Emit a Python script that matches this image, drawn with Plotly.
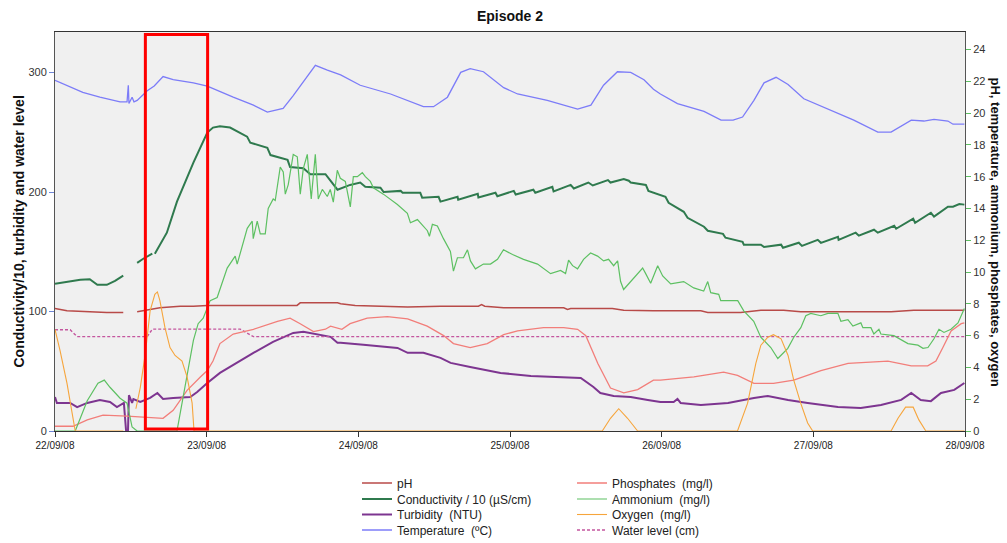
import pandas as pd
import plotly.graph_objects as go

START = pd.Timestamp("2008-09-22 00:00")

# ---- time axis -------------------------------------------------------------
day_labels = ["22/09/08", "23/09/08", "24/09/08", "25/09/08",
              "26/09/08", "27/09/08", "28/09/08"]

# ---- left-axis series (hours since 22/09/08 00:00, value) -------------------
cond_h = [0, 4.0, 5.5, 6.7, 8.2, 9.5, 10.8, 11.9, 13.0, 13.9, 15.4, 15.6, 15.8,
          17.7, 19.3, 21.9, 24.1, 25.0, 26.1, 27.7, 30.4, 30.9, 33.6, 34.1, 36.8,
          37.2, 39.3, 40.4, 42.8, 44.7, 46.7, 48.3, 49.1, 51.5, 52.0, 54.7, 55.0,
          57.8, 58.1, 60.7, 61.0, 63.7, 63.8, 66.9, 67.0, 69.7, 70.0, 72.6, 72.9,
          75.7, 76.0, 78.7, 78.9, 81.6, 82.1, 84.4, 85.1, 87.5, 87.9, 90.0, 90.8,
          91.1, 93.5, 93.9, 96.6, 97.1, 99.5, 100.1, 102.7, 103.3, 105.7, 106.1,
          108.8, 109.0, 111.7, 112.2, 114.9, 115.2, 117.7, 118.2, 120.7, 121.2,
          123.9, 124.0, 126.7, 127.2, 129.6, 130.2, 132.8, 133.1, 135.8, 136.1,
          138.6, 139.1, 141.3, 142.1, 143.1, 143.9]
cond_v = [123.2, 126.6, 127.0, 122.4, 122.4, 125.7, 130.0, None, 140.8, 144.0,
          148.4, None, 148.4, 166.0, 192.0, 224.6, 249.8, 254.0, 255.0, 254.0,
          246.4, 241.4, 237.0, 231.0, 227.0, 221.0, 220.0, 215.0, 215.0, 202.0,
          206.0, 208.0, 204.5, 203.7, 200.0, 201.0, 199.5, 199.5, 195.3, 196.0,
          192.0, 196.0, 193.6, 198.6, 195.5, 199.5, 196.5, 201.0, 198.0, 202.0,
          199.5, 204.5, 200.5, 206.0, 203.0, 208.0, 205.5, 210.0, 208.0, 211.0,
          209.5, 208.0, 206.0, 201.0, 196.0, 191.0, 183.5, 178.5, 171.0, 167.6,
          165.0, 161.8, 158.4, 156.0, 156.0, 154.0, 156.0, 153.4, 157.6, 155.0,
          160.0, 157.5, 162.6, 160.0, 166.0, 163.5, 168.5, 166.0, 171.8, 169.3,
          177.7, 174.3, 182.7, 179.5, 187.8, 187.8, 190.0, 189.5]

turb_h = [0, 0.3, 2.4, 3.5, 5.1, 7.1, 8.7, 9.8, 10.9, 11.25, 11.55, 11.7, 12.2,
          12.4, 13.5, 15.05, 16.2, 17.1, 18.7, 21.4, 22.5, 24.1, 26.1, 28.2, 31.4,
          34.5, 37.7, 39.3, 42.0, 43.6, 44.7, 45.2, 48.8, 53.1, 54.2, 55.8, 58.3,
          61.0, 62.6, 65.7, 70.5, 75.3, 80.5, 83.2, 85.2, 86.3, 88.4, 91.1, 93.8,
          95.8, 97.9, 98.5, 99.0, 102.2, 106.5, 110.6, 112.8, 116.0, 119.1, 123.9,
          127.5, 130.7, 133.9, 135.5, 137.0, 138.6, 140.2, 142.3, 143.9]
turb_v = [28.5, 23.5, 23.5, 20.0, 23.5, 26.0, 24.3, 20.0, 23.5, 0.0, 0.0, 30.0,
          23.5, 26.8, 24.3, 27.7, 31.8, 26.8, 27.7, 28.5, 32.7, 40.2, 48.6, 55.3,
          65.4, 74.6, 82.1, 83.0, 80.5, 78.8, 73.8, 73.8, 72.1, 70.4, 69.5, 65.4,
          65.4, 61.2, 57.0, 53.6, 48.6, 46.1, 45.3, 44.4, 36.9, 31.8, 29.3, 28.5,
          26.0, 24.3, 24.3, 26.8, 23.5, 21.8, 23.5, 27.7, 29.3, 26.0, 23.5, 20.0,
          19.3, 21.8, 26.0, 31.8, 26.0, 25.0, 31.8, 34.4, 40.2]

level_h = [0, 2.4, 3.5, 14.6, 15.4, 29.3, 31.4, 143.9]
level_v = [84.7, 84.7, 79.0, 79.0, 85.3, 85.3, 79.0, 79.0]

# ---- right-axis series -------------------------------------------------------
ph_h = [0, 1.9, 8.2, 10.8, 11.9, 13.0, 14.6, 16.6, 19.8, 21.9, 24.1, 38.3, 38.8,
        44.7, 45.2, 47.2, 47.5, 55.8, 61.0, 67.0, 67.5, 68.0, 71.0, 80.5, 81.1,
        81.6, 88.2, 90.0, 94.7, 102.2, 103.3, 108.5, 111.7, 115.3, 118.0, 132.3,
        135.9, 143.9]
ph_v = [7.7, 7.56, 7.45, 7.45, None, 7.5, 7.6, 7.75, 7.85, 7.85, 7.9, 7.9, 8.06,
        8.06, 8.0, 7.95, 7.9, 7.8, 7.85, 7.85, 7.95, 7.85, 7.75, 7.75, 7.65, 7.7,
        7.7, 7.6, 7.56, 7.56, 7.45, 7.45, 7.6, 7.6, 7.5, 7.5, 7.6, 7.6]

temp_h = [0, 4.4, 7.1, 10.3, 11.4, 11.6, 11.7, 12.2, 12.5, 13.0, 14.6, 15.7, 17.1,
          18.7, 21.9, 24.1, 28.2, 31.4, 33.6, 36.1, 37.7, 39.3, 41.2, 43.1, 45.2,
          48.3, 53.1, 58.3, 59.9, 62.1, 64.2, 65.7, 67.8, 71.0, 73.2, 77.9, 82.7,
          84.8, 86.8, 89.0, 91.1, 93.2, 94.7, 95.8, 98.5, 102.7, 105.4, 107.3,
          108.8, 110.6, 112.2, 114.1, 116.0, 118.5, 122.3, 126.4, 130.2, 132.3,
          135.5, 137.5, 139.1, 141.3, 142.1, 143.9]
temp_v = [22.06, 21.3, 21.0, 20.7, 20.7, 21.75, 20.6, 21.0, 20.7, 20.8, 21.4,
          21.7, 22.3, 22.1, 21.9, 21.7, 21.0, 20.5, 20.06, 20.3, 21.1, 22.0, 23.0,
          22.7, 22.4, 21.75, 21.2, 20.4, 20.4, 21.0, 22.56, 22.8, 22.6, 21.6, 21.2,
          20.8, 20.25, 20.5, 21.75, 22.6, 22.56, 22.1, 21.5, 21.2, 20.6, 20.1,
          19.56, 19.56, 19.75, 20.8, 21.9, 22.25, 21.8, 20.9, 20.25, 19.56, 18.8,
          18.8, 19.56, 19.5, 19.6, 19.5, 19.3, 19.3]

phos_h = [0, 2.85, 5.1, 7.6, 11.4, 13.5, 17.1, 18.7, 20.9, 23.0, 24.1, 25.0, 26.1,
          28.2, 31.4, 35.2, 37.2, 38.8, 40.9, 42.8, 43.6, 45.4, 46.7, 49.4, 52.6,
          55.8, 58.9, 61.5, 63.05, 65.7, 68.4, 71.0, 73.2, 77.3, 80.5, 82.7, 84.0,
          85.9, 87.9, 90.0, 92.2, 94.7, 95.8, 101.1, 105.8, 108.0, 110.6, 113.7,
          116.9, 121.2, 125.5, 131.8, 135.5, 138.1, 139.4, 140.5, 141.8, 143.4,
          143.9]
phos_v = [0.3, 0.3, 0.7, 1.0, 0.94, 0.875, 0.8, 1.3, 2.56, 3.4, 3.8, 4.4, 5.5,
          6.1, 6.4, 6.9, 7.1, 6.75, 6.25, 6.4, 6.6, 6.4, 6.75, 7.1, 7.2, 7.06, 6.6,
          6.0, 5.5, 5.25, 5.5, 6.06, 6.3, 6.5, 6.5, 6.4, 6.0, 4.25, 2.7, 2.4, 2.6,
          3.2, 3.2, 3.4, 3.7, 3.5, 3.0, 3.0, 3.2, 3.8, 4.25, 4.4, 4.1, 4.1, 4.4,
          5.25, 6.3, 6.75, 6.8]

amm_h = [0, 3.2, 5.1, 6.8, 7.8, 8.7, 10.3, 11.4, 12.2, 13.0, 19.3, 20.9, 21.9,
         22.65, 23.45, 24.55, 25.66, 27.25, 28.51, 28.83, 30.42, 31.21, 31.37, 32.0,
         32.48, 33.27, 33.74, 34.53, 34.85, 35.64, 36.12, 36.44, 36.91, 37.7, 38.34,
         38.81, 39.29, 39.92, 40.55, 41.19, 41.66, 42.3, 43.09, 43.56, 44.04, 44.67,
         45.15, 45.94, 46.73, 47.21, 47.84, 48.63, 49.11, 49.9, 50.38, 51.96, 54.18,
         55.76, 56.24, 57.35, 58.3, 58.93, 59.25, 59.72, 60.51, 61.47, 62.57, 63.05,
         63.68, 64.63, 65.27, 65.74, 66.53, 67.8, 68.91, 70.02, 70.97, 72.4, 74.14,
         76.36, 78.42, 80.0, 80.79, 81.27, 81.9, 82.69, 83.64, 84.75, 85.86, 86.81,
         87.6, 88.4, 89.03, 89.5, 89.98, 91.09, 92.2, 92.99, 93.47, 94.26, 95.37,
         96.16, 97.43, 99.49, 101.07, 102.65, 103.29, 103.76, 105.03, 105.35,
         108.04, 108.99, 110.57, 111.68, 113.27, 114.38, 114.85, 115.96, 116.91,
         118.02, 118.81, 119.6, 121.19, 122.3, 123.88, 124.36, 125.47, 126.26,
         127.52, 127.84, 129.11, 129.58, 130.38, 130.69, 132.75, 134.97, 136.55,
         137.35, 138.14, 139.09, 139.88, 140.67, 141.78, 142.89, 143.9]
amm_v = [0, 0, 1.9, 3.0, 3.2, 2.75, 2.06, 1.75, 0.25, 0, 0, 3.4, 5.7, 6.75, 7.1,
         8.2, 8.4, 10.25, 11.0, 10.5, 12.75, 13.2, 12.1, 13.2, 12.4, 12.4, 14.0,
         14.6, 14.5, 16.6, 16.3, 14.9, 15.5, 17.4, 17.25, 14.9, 16.5, 17.4, 14.6,
         17.4, 14.6, 15.2, 14.75, 15.2, 14.4, 16.4, 15.9, 15.7, 14.1, 16.0, 16.0,
         16.25, 16.0, 15.7, 15.3, 14.9, 14.25, 13.7, 13.1, 13.3, 12.9, 12.6, 12.25,
         13.0, 12.9, 12.1, 11.3, 10.06, 10.9, 10.9, 11.4, 10.7, 10.2, 10.5, 10.5,
         10.8, 11.4, 11.1, 10.8, 10.5, 9.9, 10.1, 9.9, 10.75, 10.4, 10.2, 10.8,
         11.2, 11.0, 10.7, 10.8, 10.4, 10.7, 9.4, 8.9, 9.4, 9.9, 10.25, 9.9, 9.3,
         10.4, 9.75, 9.25, 9.4, 9.0, 8.8, 9.4, 8.7, 8.6, 8.2, 8.2, 7.56, 6.9, 5.9,
         5.25, 4.56, 4.75, 5.2, 5.9, 6.5, 7.25, 7.4, 7.25, 7.4, 7.4, 6.9, 7.0, 6.6,
         6.8, 6.5, 6.5, 6.1, 6.4, 6.1, 6.0, 5.5, 5.4, 5.2, 5.25, 5.8, 6.4, 6.2, 6.4,
         6.8, 7.7]

oxy_h = [0, 0.8, 1.9, 2.7, 3.2, 10.8, 11.9, 12.8, 13.5, 14.3, 15.05, 15.8, 16.2,
         16.6, 17.4, 18.2, 19.0, 20.1, 20.9, 21.7, 22.0, 86.6, 87.9, 89.2, 90.6,
         92.2, 108.0, 109.6, 110.9, 111.7, 112.8, 113.7, 114.9, 116.0, 116.9, 118.0,
         119.1, 119.9, 132.3, 133.4, 134.6, 135.8, 136.7, 137.8, 143.9]
oxy_v = [6.4, 5.06, 3.0, 1.1, 0, 0, None, 1.4, 2.75, 4.9, 7.56, 8.6, 8.75, 8.2,
         6.5, 5.25, 4.75, 4.4, 3.4, 1.75, 0, 0, 0.8, 1.4, 0.8, 0, 0, 1.75, 4.25,
         5.4, 5.9, 6.06, 5.8, 4.75, 3.2, 1.75, 0.5, 0, 0, 0.8, 1.5, 1.5, 0.7, 0, 0]

# highlighted window (hours)
window_h = [14.3, 24.15]


def when(hours):
    return [START + pd.Timedelta(hours=h) for h in hours]


FONT = "Liberation Sans, Arial, sans-serif"

series = [
    # name, hours, values, axis, colour, width, dash, legend
    ("pH", ph_h, ph_v, "y2", "#B84A48", 1.5, "solid", "legend"),
    ("Conductivity / 10 (µS/cm)", cond_h, cond_v, "y", "#2F7A4E", 2.0, "solid", "legend2"),
    ("Turbidity  (NTU)", turb_h, turb_v, "y", "#7D3590", 2.0, "solid", "legend3"),
    ("Temperature  (ºC)", temp_h, temp_v, "y2", "#7C7CF8", 1.3, "solid", "legend4"),
    ("Phosphates  (mg/l)", phos_h, phos_v, "y2", "#F27E7A", 1.3, "solid", "legend"),
    ("Ammonium  (mg/l)", amm_h, amm_v, "y2", "#5DC062", 1.2, "solid", "legend2"),
    ("Oxygen  (mg/l)", oxy_h, oxy_v, "y2", "#F6A53C", 1.1, "solid", "legend3"),
    ("Water level (cm)", level_h, level_v, "y", "#C4569E", 1.4, "3px,2px", "legend4"),
]

fig = go.Figure()
for name, hrs, vals, axis, colour, width, dash, leg in series:
    fig.add_trace(go.Scatter(
        x=when(hrs), y=vals, name=name, mode="lines", yaxis=axis,
        line=dict(color=colour, width=width, dash=dash),
        connectgaps=False, legend=leg,
    ))

# highlighted window
fig.add_shape(type="rect", xref="x", yref="paper",
              x0=when([window_h[0]])[0], x1=when([window_h[1]])[0],
              y0=0.005, y1=0.994, line=dict(color="#FF0000", width=3))

day_ticks = [START + pd.Timedelta(days=k) for k in range(len(day_labels))]

PLOT_L, PLOT_W = 55, 910
PLOT_T, PLOT_H = 32, 399


def px_to_paper_x(px):
    return (px - PLOT_L) / PLOT_W


def py_to_paper_y(py):
    return 1 - (py - PLOT_T) / PLOT_H


legend_common = dict(orientation="h", xanchor="left", yanchor="middle",
                     x=px_to_paper_x(357), entrywidth=170, entrywidthmode="pixels",
                     bgcolor="rgba(0,0,0,0)", font=dict(family=FONT, size=12, color="#222"))
row_y = [483, 499, 514.5, 530]

fig.update_layout(
    width=1007, height=543,
    margin=dict(l=PLOT_L, r=1007 - PLOT_L - PLOT_W, t=PLOT_T,
                b=543 - PLOT_T - PLOT_H, autoexpand=False),
    paper_bgcolor="white", plot_bgcolor="#F0F0F0",
    font=dict(family=FONT, size=11, color="#333"),
    title=dict(text="Episode 2", x=0.5, xref="paper", y=1 - 16 / 543, yanchor="middle",
               font=dict(family=FONT, size=14, color="#111", weight="bold")),
    xaxis=dict(type="date", range=[day_ticks[0], day_ticks[-1]],
               tickvals=day_ticks, ticktext=day_labels, ticks="outside", ticklen=5,
               tickcolor="#333", tickfont=dict(size=10, color="#222"),
               showgrid=False, zeroline=False, showline=True, linecolor="#333",
               linewidth=1, mirror=True),
    yaxis=dict(range=[0, 334], tickvals=[0, 100, 200, 300], ticks="outside",
               ticklen=5, tickcolor="#6F86D6", tickfont=dict(size=11, color="#333"),
               showgrid=False, zeroline=False, showline=True, linecolor="#555",
               linewidth=1, mirror=True),
    yaxis2=dict(range=[0, 25.1], tickvals=list(range(0, 25, 2)), overlaying="y",
                side="right", ticks="outside", ticklen=5, tickcolor="#5DC062",
                tickfont=dict(size=11, color="#333"), showgrid=False, zeroline=False,
                showline=False),
    legend=dict(legend_common, y=py_to_paper_y(row_y[0])),
    legend2=dict(legend_common, y=py_to_paper_y(row_y[1])),
    legend3=dict(legend_common, y=py_to_paper_y(row_y[2])),
    legend4=dict(legend_common, y=py_to_paper_y(row_y[3])),
    annotations=[
        dict(text="Conductivity/10, turbidity and water level", textangle=-90,
             xref="paper", yref="paper", x=px_to_paper_x(18), y=0.5,
             xanchor="center", yanchor="middle", showarrow=False,
             font=dict(family=FONT, size=14, color="#111", weight="bold")),
        dict(text="pH, temperature, ammonium, phosphates, oxygen", textangle=90,
             xref="paper", yref="paper", x=px_to_paper_x(995), y=0.5,
             xanchor="center", yanchor="middle", showarrow=False,
             font=dict(family=FONT, size=13, color="#111", weight="bold")),
    ],
)

fig.write_html("out.html")
